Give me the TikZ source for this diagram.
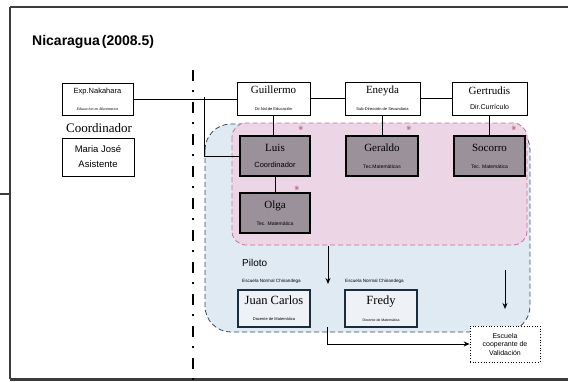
\documentclass[tikz,border=0pt]{standalone}
\usepackage{fontspec}
\setmainfont{Liberation Serif}
\setsansfont{Liberation Sans}
\newfontfamily\symfont{DejaVu Sans}
\usetikzlibrary{arrows.meta}
\definecolor{frameC}{RGB}{60,60,60}
\definecolor{pinkF}{RGB}{236,214,230}
\definecolor{pinkB}{RGB}{200,110,160}
\definecolor{blueF}{RGB}{224,234,243}
\definecolor{blueB}{RGB}{60,70,95}
\definecolor{grayF}{RGB}{155,145,155}
\definecolor{pilotF}{RGB}{238,242,247}
\definecolor{pilotB}{RGB}{25,45,60}
\definecolor{markC}{RGB}{150,60,70}
\tikzset{
  wbox/.style={draw=black, line width=0.9pt, fill=white, inner sep=0pt, align=center},
  gbox/.style={draw=black, line width=1.6pt, fill=grayF, inner sep=0pt, align=center},
  pbox/.style={draw=pilotB, line width=1.8pt, fill=pilotF, inner sep=0pt, align=center},
  conn/.style={draw=black, line width=0.8pt},
  arr/.style={draw=black, line width=0.9pt, -{Stealth[length=6pt,width=5pt]}},
  mk/.style={font=\symfont\fontsize{6}{6}\selectfont, text=markC, inner sep=0pt},
}
\begin{document}
\begin{tikzpicture}[x=1pt,y=-1pt]
\useasboundingbox (0,0) rectangle (568,381);
\fill[white] (0,0) rectangle (568,381);
% frame
\draw[frameC, line width=1.8pt] (10,7) -- (568,7);
\draw[frameC, line width=1.6pt] (10,7) -- (10,379);
\draw[frameC, line width=2.2pt] (10,379.5) -- (568,379.5);
\draw[frameC, line width=2.5pt] (0,194) -- (9,194);
% title
\node[anchor=west, font=\sffamily\bfseries\fontsize{14}{16}\selectfont, inner sep=0pt] (title) at (32,42) {Nicaragua\hspace{2pt}(2008.5)};
% blue and pink regions
\draw[blueB, line width=0.8pt, dash pattern=on 5pt off 3pt, fill=blueF, rounded corners=26pt] (205,124) rectangle (530,332);
\draw[pinkB, line width=0.8pt, dash pattern=on 5pt off 3pt, fill=pinkF, rounded corners=14pt] (232,123) rectangle (527,245);
% dash-dot separator
\draw[black, line width=2.6pt, dash pattern=on 11pt off 9pt on 2pt off 10pt] (193,70) -- (193,381);
% top row nodes
\node[wbox, minimum width=71pt, minimum height=32pt] (nak) at (97.5,99)
  {\sffamily\fontsize{7.5}{9}\selectfont Exp.Nakahara\\[5pt]{\itshape\fontsize{4}{5}\selectfont Educacion en Matematica}};
\node[font=\fontsize{13}{14}\selectfont, inner sep=0pt] (coord) at (99,128) {Coordinador};
\node[wbox, minimum width=72pt, minimum height=38pt] (maria) at (98,157)
  {\sffamily\fontsize{9.5}{11}\selectfont Maria José\\[3pt]\sffamily\fontsize{9.5}{11}\selectfont Asistente};
\node[wbox, minimum width=73pt, minimum height=33pt] (guil) at (273.5,98.5)
  {\fontsize{11}{12}\selectfont Guillermo\\[5pt]{\sffamily\fontsize{4}{5}\selectfont Dir.Nal.de Educación}};
\node[wbox, minimum width=75pt, minimum height=33pt] (ene) at (382.5,98.5)
  {\fontsize{11}{12}\selectfont Eneyda\\[5pt]{\sffamily\fontsize{4}{5}\selectfont Sub-Dirección de Secundaria}};
\node[wbox, minimum width=75pt, minimum height=33pt] (ger) at (489.5,98.5)
  {\fontsize{11}{12}\selectfont Gertrudis\\[3pt]{\sffamily\fontsize{7}{8}\selectfont Dir.Currículo}};
% gray boxes
\node[gbox, minimum width=70pt, minimum height=40pt] (luis) at (275,156)
  {\fontsize{11}{12}\selectfont Luis\\[4pt]{\sffamily\fontsize{7.5}{8}\selectfont Coordinador}};
\node[gbox, minimum width=72pt, minimum height=40pt] (gera) at (382,156)
  {\fontsize{11}{12}\selectfont Geraldo\\[5pt]{\sffamily\fontsize{5}{6}\selectfont Tec.Matemáticas}};
\node[gbox, minimum width=71pt, minimum height=40pt] (soc) at (489.5,156)
  {\fontsize{11}{12}\selectfont Socorro\\[5pt]{\sffamily\fontsize{5}{6}\selectfont Tec. Matemática}};
\node[gbox, minimum width=70pt, minimum height=40pt] (olga) at (275,213)
  {\fontsize{11}{12}\selectfont Olga\\[5pt]{\sffamily\fontsize{5}{6}\selectfont Tec. Matemática}};
% marks
\node[mk] (m1) at (301,128) {※};
\node[mk] (m2) at (409,128) {※};
\node[mk] (m3) at (514,128) {※};
\node[mk] (m4) at (297,188) {※};
% piloto
\node[anchor=west, inner sep=0pt, font=\sffamily\fontsize{10}{11}\selectfont] (pil) at (242,263) {Piloto};
\node[anchor=west, inner sep=0pt, font=\sffamily\fontsize{4.6}{5}\selectfont] (en1) at (242,281) {Escuela Normal Chinandega};
\node[anchor=west, inner sep=0pt, font=\sffamily\fontsize{4.6}{5}\selectfont] (en2) at (345,281) {Escuela Normal Chinandega};
\node[pbox, minimum width=72pt, minimum height=37pt] (juan) at (274,308.5)
  {\fontsize{12.5}{13}\selectfont Juan Carlos\\[4pt]{\sffamily\fontsize{4}{5}\selectfont Docente de Matemática}};
\node[pbox, minimum width=72pt, minimum height=37pt] (fredy) at (381,308.5)
  {\fontsize{12.5}{13}\selectfont Fredy\\[5pt]{\sffamily\fontsize{3.5}{4}\selectfont Docente de Matemática}};
\node[draw=black, line width=0.7pt, dotted, fill=white, minimum width=70pt, minimum height=36pt, inner sep=0pt, align=center,
  font=\sffamily\fontsize{7}{8.5}\selectfont] (esc) at (505,344) {Escuela\\cooperante de\\Validación};
% connectors
\coordinate (j1) at (204,97);
\draw[conn] (nak.east) -- (nak.east -| guil.west);
\draw[conn] (j1) |- (luis.west);
\draw[conn] (guil.east) -- (ene.west);
\draw[conn] (ene.east) -- (ger.west);
\draw[conn] (guil.south) -- (guil.south |- luis.north);
\draw[conn] (ene.south) -- (ene.south |- gera.north);
\draw[conn] (ger.south) -- (ger.south |- soc.north);
\draw[conn] (luis.south) -- (olga.north);
\coordinate (a1) at (328,246);
\coordinate (a2) at (328,284);
\draw[arr] (a1) -- (a2);
\coordinate (b1) at (327,327);
\draw[arr] (b1) |- (esc.west);
\coordinate (c1) at (505,270);
\coordinate (c2) at (505,309);
\draw[arr] (c1) -- (c2);
\end{tikzpicture}
\end{document}
